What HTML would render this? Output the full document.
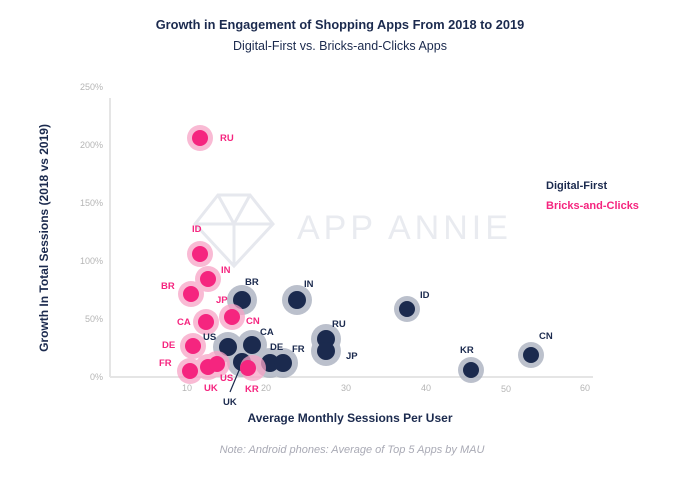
<!DOCTYPE html>
<html><head><meta charset="utf-8"><style>
html,body{margin:0;padding:0;background:#fff}
svg{display:block;font-family:"Liberation Sans",sans-serif}
</style></head><body>
<svg width="680" height="482" viewBox="0 0 680 482">
<text x="340" y="29" text-anchor="middle" font-size="12.8" font-weight="bold" fill="#1b2a4e">Growth in Engagement of Shopping Apps From 2018 to 2019</text>
<text x="340" y="50" text-anchor="middle" font-size="12.5" fill="#1b2a4e">Digital-First vs. Bricks-and-Clicks Apps</text>
<!-- watermark -->
<g stroke="#e6e8ee" stroke-width="3" fill="none">
<path d="M218 195 L250 195 L273 224 L234 266 L195 224 Z M195 224 L273 224 M218 195 L234 224 L250 195 M234 224 L234 266"/>
</g>
<text x="297" y="239" font-size="34" fill="#e9ebf0" letter-spacing="4">APP ANNIE</text>
<!-- axes -->
<line x1="110" y1="98" x2="110" y2="377" stroke="#e5e5e5" stroke-width="2"/>
<line x1="110" y1="377" x2="593" y2="377" stroke="#e5e5e5" stroke-width="2"/>
<g font-size="9" fill="#b5b5b5" text-anchor="end">
<text x="103" y="380">0%</text><text x="103" y="322">50%</text><text x="103" y="264">100%</text><text x="103" y="206">150%</text><text x="103" y="148">200%</text><text x="103" y="90">250%</text>
</g>
<g font-size="9" fill="#b5b5b5" text-anchor="middle">
<text x="187" y="391">10</text><text x="266" y="391">20</text><text x="346" y="391">30</text><text x="426" y="391">40</text><text x="506" y="392">50</text><text x="585" y="391">60</text>
</g>
<text x="350" y="422" text-anchor="middle" font-size="12" font-weight="bold" fill="#1b2a4e">Average Monthly Sessions Per User</text>
<text transform="translate(48 238) rotate(-90)" text-anchor="middle" font-size="12" font-weight="bold" fill="#1b2a4e">Growth In Total Sessions (2018 vs 2019)</text>
<text x="352" y="453" text-anchor="middle" font-size="11" font-style="italic" fill="#a9aab5">Note: Android phones: Average of Top 5 Apps by MAU</text>
<!-- legend -->
<text x="546" y="189" font-size="11" font-weight="bold" fill="#1b2a4e">Digital-First</text>
<text x="546" y="209" font-size="11" font-weight="bold" fill="#f5257f">Bricks-and-Clicks</text>
<!-- navy -->
<g fill="#1b2a4e">
<g fill="#a5acbb" opacity="0.75">
<circle cx="242" cy="300" r="15"/><circle cx="297" cy="300" r="15"/><circle cx="228" cy="347" r="15"/><circle cx="252" cy="345" r="15"/><circle cx="242" cy="362" r="15"/><circle cx="270" cy="363" r="15"/><circle cx="283" cy="363" r="15"/><circle cx="326" cy="339" r="15"/><circle cx="326" cy="351" r="15"/><circle cx="407" cy="309" r="13"/><circle cx="471" cy="370" r="13"/><circle cx="531" cy="355" r="13"/>
</g>
<circle cx="242" cy="300" r="9"/><circle cx="297" cy="300" r="9"/><circle cx="228" cy="347" r="9"/><circle cx="252" cy="345" r="9"/><circle cx="242" cy="362" r="9"/><circle cx="270" cy="363" r="9"/><circle cx="283" cy="363" r="9"/><circle cx="326" cy="339" r="9"/><circle cx="326" cy="351" r="9"/><circle cx="407" cy="309" r="8"/><circle cx="471" cy="370" r="8"/><circle cx="531" cy="355" r="8"/>
</g>
<line x1="240" y1="368" x2="230" y2="392" stroke="#1b2a4e" stroke-width="1.2"/>
<!-- pink -->
<g fill="#f5257f">
<g fill="#f7a3c6" opacity="0.75">
<circle cx="200" cy="138" r="13"/><circle cx="200" cy="254" r="13"/><circle cx="208" cy="279" r="13"/><circle cx="191" cy="294" r="13"/><circle cx="206" cy="322" r="13"/><circle cx="232" cy="317" r="13"/><circle cx="193" cy="346" r="13"/><circle cx="190" cy="371" r="13"/><circle cx="208" cy="367" r="13"/><circle cx="217" cy="364" r="13"/><circle cx="253" cy="368" r="13"/>
</g>
<circle cx="200" cy="138" r="8"/><circle cx="200" cy="254" r="8"/><circle cx="208" cy="279" r="8"/><circle cx="191" cy="294" r="8"/><circle cx="206" cy="322" r="8"/><circle cx="232" cy="317" r="8"/><circle cx="193" cy="346" r="8"/><circle cx="190" cy="371" r="8"/><circle cx="208" cy="367" r="8"/><circle cx="217" cy="364" r="8"/><circle cx="248" cy="368" r="8"/>
</g>
<!-- labels -->
<g font-size="9.5" font-weight="bold" fill="#f5257f">
<text x="220" y="141">RU</text><text x="192" y="232">ID</text><text x="221" y="273">IN</text><text x="161" y="289">BR</text><text x="177" y="325">CA</text><text x="216" y="303">JP</text><text x="246" y="324">CN</text><text x="162" y="348">DE</text><text x="159" y="366">FR</text><text x="204" y="391">UK</text><text x="220" y="381">US</text><text x="245" y="392">KR</text>
</g>
<g font-size="9.5" font-weight="bold" fill="#1b2a4e">
<text x="245" y="285">BR</text><text x="304" y="287">IN</text><text x="203" y="340">US</text><text x="260" y="335">CA</text><text x="270" y="350">DE</text><text x="292" y="352">FR</text><text x="332" y="327">RU</text><text x="346" y="359">JP</text><text x="420" y="298">ID</text><text x="460" y="353">KR</text><text x="539" y="339">CN</text><text x="223" y="405">UK</text>
</g>
</svg>
</body></html>
